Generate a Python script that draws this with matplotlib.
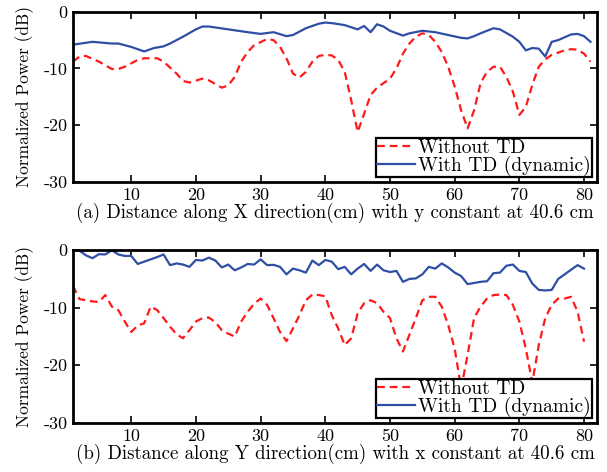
import matplotlib
matplotlib.use("Agg")
import matplotlib.pyplot as plt

plt.rcParams["font.family"] = ["cmr10", "DejaVu Serif"]
plt.rcParams["axes.unicode_minus"] = False
plt.rcParams["mathtext.fontset"] = "cm"

# ---- data ------------------------------------------------------------------
# (a) scan along X
xa_without = [1, 2, 3, 5, 7, 8, 9, 11, 12, 14, 15, 17, 18, 19, 21, 22, 24, 25,
              26, 27, 28, 29, 31, 32, 33, 34, 35, 36, 37, 38, 39, 40, 41, 42,
              43, 44, 45, 46, 47, 48, 50, 51, 52, 53, 54, 55, 56, 57, 58, 59,
              60, 61, 62, 63, 64, 65, 66, 67, 68, 69, 70, 71, 72, 73, 74, 75,
              76, 77, 78, 79, 80, 81]
ya_without = [-8.8, -7.9, -7.8, -8.8, -10.1, -10.1, -9.7, -8.5, -8.2, -8.2, -8.8,
              -10.9, -12.2, -12.5, -11.8, -12.1, -13.4, -13.0, -11.5, -8.8, -7.1,
              -5.9, -4.8, -5.0, -6.2, -8.2, -10.9, -11.6, -10.6, -8.8, -7.8, -7.6,
              -7.7, -8.5, -10.6, -15.6, -21.2, -18.0, -14.7, -13.4, -11.8, -10.0,
              -7.4, -5.6, -4.4, -3.8, -4.1, -5.3, -7.1, -9.7, -13.2, -17.4, -20.6,
              -17.4, -12.6, -10.6, -9.7, -9.7, -11.5, -14.1, -18.2, -16.8, -12.9,
              -9.7, -8.4, -7.6, -7.2, -6.8, -6.6, -6.7, -7.4, -8.8]
xa_with = [1, 4, 7, 8, 10, 12, 13.5, 15, 16, 18, 20, 21, 22, 25, 28, 30, 32, 34,
           35, 37, 39, 40, 41, 43, 45, 46, 47, 48, 49, 50, 52, 53, 55, 57, 59,
           61, 62, 63, 64, 66, 67, 69, 70, 71, 72, 73, 74, 75, 76, 78, 79, 80, 81]
ya_with = [-5.8, -5.3, -5.6, -5.6, -6.2, -7.0, -6.4, -6.1, -5.6, -4.4, -3.1, -2.6,
           -2.6, -3.1, -3.6, -3.9, -3.6, -4.3, -4.1, -2.9, -2.1, -1.9, -2.0, -2.35,
           -3.1, -2.5, -3.6, -2.2, -2.6, -3.35, -4.2, -3.8, -3.35, -3.6, -4.1, -4.6,
           -4.7, -4.3, -3.8, -2.9, -3.1, -4.4, -5.3, -6.8, -6.4, -6.5, -7.9, -5.3,
           -5.0, -4.0, -3.9, -4.3, -5.3]

# (b) scan along Y
xb = list(range(1, 81))
yb_without = [-6.2, -8.5, -8.7, -8.9, -9.0, -7.8, -9.8, -10.4, -12.4, -14.2, -13.1,
              -12.7, -9.8, -10.4, -11.8, -13.3, -14.6, -15.3, -13.9, -12.4, -11.8,
              -11.7, -12.5, -13.9, -14.5, -15.0, -12.4, -10.7, -9.3, -8.4, -9.5,
              -11.8, -14.2, -15.8, -13.6, -11.3, -8.7, -7.7, -7.8, -8.0, -11.3,
              -13.6, -16.5, -15.3, -11.0, -9.2, -8.7, -9.2, -10.7, -11.8, -15.3,
              -17.6, -14.7, -11.8, -8.7, -8.1, -8.1, -9.8, -13.0, -17.1, -24.0,
              -18.2, -11.8, -9.8, -8.4, -7.8, -7.7, -7.8, -9.5, -12.4, -17.1,
              -23.0, -16.5, -11.8, -9.5, -8.4, -8.4, -8.1, -10.7, -15.9]
yb_with = [0.0, -0.1, -0.9, -1.4, -0.7, -0.75, 0.0, -0.75, -1.0, -1.0, -2.4, -2.0,
           -1.6, -1.2, -0.75, -2.6, -2.3, -2.5, -2.9, -1.7, -1.8, -1.3, -1.8, -3.0,
           -2.5, -3.5, -3.0, -2.4, -2.5, -1.6, -2.6, -2.55, -2.9, -4.2, -3.2, -3.5,
           -3.9, -1.8, -2.6, -1.7, -2.0, -3.3, -2.9, -4.2, -3.2, -2.4, -3.6, -2.5,
           -3.5, -3.8, -3.6, -5.5, -5.0, -4.9, -4.2, -2.9, -3.2, -2.3, -3.0, -3.9,
           -4.5, -5.9, -5.7, -5.5, -5.4, -4.0, -3.9, -2.7, -2.5, -3.6, -3.8, -5.8,
           -6.9, -7.0, -6.9, -5.0, -4.2, -3.4, -2.6, -3.2]

xticks = [10, 20, 30, 40, 50, 60, 70, 80]
yticks = [0, -10, -20, -30]
legend_labels = ["Without TD", "With TD (dynamic)"]

RED = "#ff1a1a"
BLUE = "#2f4fa5"

fig = plt.figure(figsize=(6.07, 4.72), dpi=100)
ax1 = fig.add_axes([0.1203, 0.615, 0.8632, 0.360])
ax2 = fig.add_axes([0.1203, 0.104, 0.8632, 0.366])


def style(ax, xlabel):
    ax.set_xlim(1, 82)
    ax.set_ylim(-30, 0)
    ax.set_xticks(xticks)
    ax.set_yticks(yticks)
    ax.tick_params(direction="in", top=True, right=True, length=5, width=1.2,
                   labelsize=13, pad=4)
    for s in ax.spines.values():
        s.set_linewidth(2)
    ax.set_ylabel("Normalized Power (dB)", fontsize=12.5, labelpad=7)
    ax.set_xlabel(xlabel, fontsize=13.6, labelpad=0)
    leg = ax.legend(legend_labels, loc="lower right", fontsize=14,
                    fancybox=False, framealpha=1, edgecolor="black",
                    borderpad=0.05, handlelength=1.95, handletextpad=0.2,
                    labelspacing=-0.05, borderaxespad=0.25)
    leg.get_frame().set_linewidth(1.6)


ax1.plot(xa_without, ya_without, color=RED, lw=1.6, ls=(0, (3.5, 2.2)))
ax1.plot(xa_with, ya_with, color=BLUE, lw=1.6)
style(ax1, "(a) Distance along X direction(cm) with y constant at 40.6 cm")

ax2.plot(xb, yb_without, color=RED, lw=1.6, ls=(0, (3.5, 2.2)))
ax2.plot(xb, yb_with, color=BLUE, lw=1.6)
style(ax2, "(b) Distance along Y direction(cm) with x constant at 40.6 cm")

fig.savefig("out.png", dpi=100, facecolor="white")
